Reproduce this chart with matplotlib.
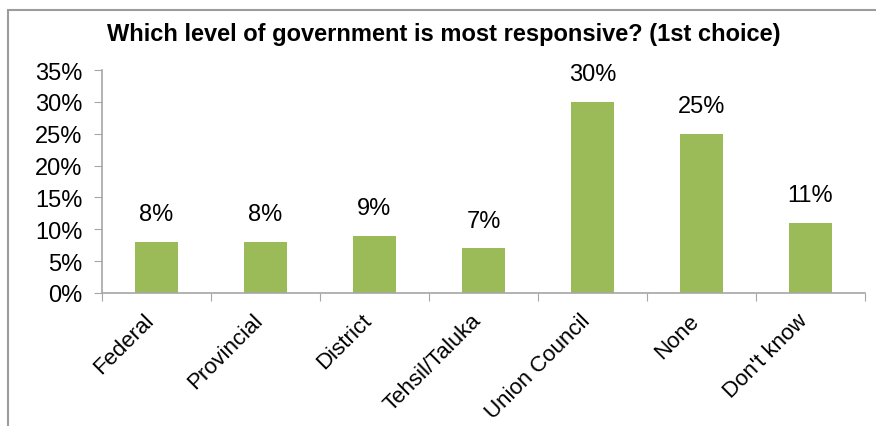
import matplotlib
matplotlib.use("Agg")
import matplotlib.pyplot as plt
from matplotlib.patches import Rectangle
from matplotlib.ticker import FuncFormatter

plt.rcParams['font.family'] = ['Liberation Sans', 'DejaVu Sans']

categories = ["Federal", "Provincial", "District", "Tehsil/Taluka",
              "Union Council", "None", "Don't know"]
shares = [8, 8, 9, 7, 30, 25, 11]

bar_color = "#9BBB59"
axis_grey = "#A6A6A6"

fig = plt.figure(figsize=(8.76, 4.27), dpi=100)
ax = fig.add_axes([102 / 876, 1 - 294 / 427, (865 - 102) / 876, (294 - 71) / 427])

# outer chart border (only top and left edges fall inside the image)
fig.patches.append(Rectangle((8 / 876, -0.1), 1.2, 1 - 11 / 427 + 0.1,
                             transform=fig.transFigure, fill=False,
                             edgecolor="#9C9C9C", linewidth=1.5))

x = range(len(categories))
bars = ax.bar(x, shares, width=0.4, color=bar_color)

for b, v in zip(bars, shares):
    ax.text(b.get_x() + b.get_width() / 2, v + 2.6, f"{v}%",
            ha="center", va="bottom", fontsize=17)

ax.set_xlim(-0.5, len(categories) - 0.5)
ax.set_ylim(0, 35)
ax.set_yticks(range(0, 36, 5))
ax.yaxis.set_major_formatter(FuncFormatter(lambda v, p: f"{v:.0f}%"))
ax.tick_params(axis="y", labelsize=17, length=6, color=axis_grey, pad=8)

# category ticks sit between the bars
ax.set_xticks([i - 0.5 for i in range(len(categories) + 1)])
ax.set_xticklabels([])
ax.set_xticks([i - 0.12 for i in x], minor=True)
ax.set_xticklabels(categories, minor=True, rotation=45, ha="right",
                   rotation_mode="anchor", fontsize=16)
ax.tick_params(axis="x", which="major", length=6, color=axis_grey)
ax.tick_params(axis="x", which="minor", length=0, pad=12)

for side in ["top", "right"]:
    ax.spines[side].set_visible(False)
for side in ["left", "bottom"]:
    ax.spines[side].set_color(axis_grey)
    ax.spines[side].set_linewidth(1.2)

fig.text(0.506, 1 - 35 / 427, "Which level of government is most responsive? (1st choice)",
         ha="center", va="center", fontsize=17, fontweight="bold")

fig.savefig("out.png", dpi=100)
